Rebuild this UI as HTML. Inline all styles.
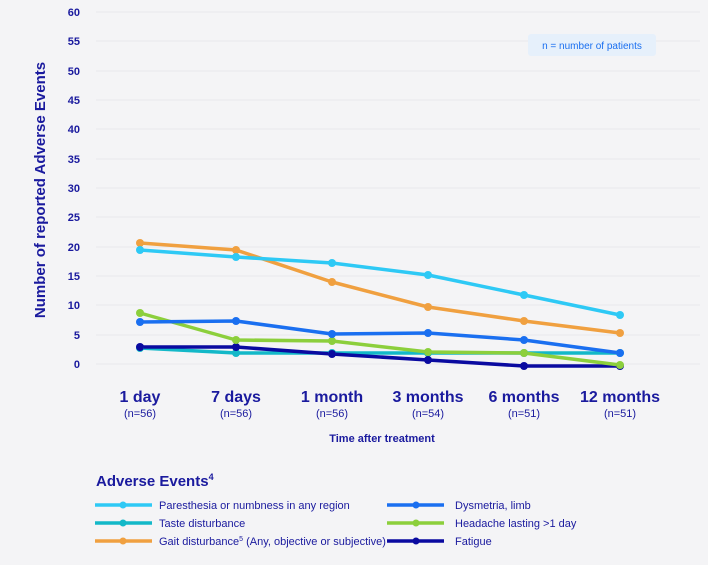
<!DOCTYPE html>
<html><head><style>
body{margin:0;width:708px;height:560px;background:#f4f4f6;font-family:"Liberation Sans",sans-serif;overflow:hidden}
</style></head><body>
<svg width="708" height="560" xmlns="http://www.w3.org/2000/svg" font-family="Liberation Sans, sans-serif">
<rect width="708" height="560" fill="#f4f4f6"/>
<g stroke="#e8e8ec" stroke-width="1">
<line x1="96" x2="700" y1="12" y2="12"/><line x1="96" x2="700" y1="41" y2="41"/><line x1="96" x2="700" y1="71" y2="71"/><line x1="96" x2="700" y1="100" y2="100"/><line x1="96" x2="700" y1="129" y2="129"/><line x1="96" x2="700" y1="159" y2="159"/><line x1="96" x2="700" y1="188" y2="188"/><line x1="96" x2="700" y1="217" y2="217"/><line x1="96" x2="700" y1="247" y2="247"/><line x1="96" x2="700" y1="276" y2="276"/><line x1="96" x2="700" y1="305" y2="305"/><line x1="96" x2="700" y1="335" y2="335"/><line x1="96" x2="700" y1="364" y2="364"/>
</g>
<g fill="#1a1a9e" font-size="11" font-weight="bold" text-anchor="end">
<text x="80" y="16">60</text><text x="80" y="45">55</text><text x="80" y="75">50</text><text x="80" y="104">45</text><text x="80" y="133">40</text><text x="80" y="163">35</text><text x="80" y="192">30</text><text x="80" y="221">25</text><text x="80" y="251">20</text><text x="80" y="280">15</text><text x="80" y="309">10</text><text x="80" y="339">5</text><text x="80" y="368">0</text>
</g>
<text transform="translate(45,190) rotate(-90)" fill="#1a1a9e" font-size="15" font-weight="bold" text-anchor="middle">Number of reported Adverse Events</text>
<rect x="528" y="34" width="128" height="22" rx="3" fill="#e6f0fb"/>
<text x="592" y="49" fill="#1a6ff0" font-size="10" text-anchor="middle">n = number of patients</text>
<g stroke-width="3.5" fill="none" stroke-linejoin="round">
<polyline stroke="#13b8c8" points="140,348 236,353 332,353 428,353 524,353 620,353"/>
<polyline stroke="#0a0aa0" points="140,347 236,347 332,354 428,360 524,366 620,366"/>
<polyline stroke="#8ccf3c" points="140,313 236,340 332,341 428,352 524,353 620,365"/>
<polyline stroke="#1a6ff0" points="140,322 236,321 332,334 428,333 524,340 620,353"/>
<polyline stroke="#f0a040" points="140,243 236,250 332,282 428,307 524,321 620,333"/>
<polyline stroke="#2ec9f5" points="140,250 236,257 332,263 428,275 524,295 620,315"/>
</g>
<g>
<g fill="#13b8c8"><circle cx="140" cy="348" r="4"/><circle cx="236" cy="353" r="4"/><circle cx="332" cy="353" r="4"/><circle cx="428" cy="353" r="4"/><circle cx="524" cy="353" r="4"/><circle cx="620" cy="353" r="4"/></g>
<g fill="#0a0aa0"><circle cx="140" cy="347" r="4"/><circle cx="236" cy="347" r="4"/><circle cx="332" cy="354" r="4"/><circle cx="428" cy="360" r="4"/><circle cx="524" cy="366" r="4"/><circle cx="620" cy="366" r="4"/></g>
<g fill="#8ccf3c"><circle cx="140" cy="313" r="4"/><circle cx="236" cy="340" r="4"/><circle cx="332" cy="341" r="4"/><circle cx="428" cy="352" r="4"/><circle cx="524" cy="353" r="4"/><circle cx="620" cy="365" r="4"/></g>
<g fill="#1a6ff0"><circle cx="140" cy="322" r="4"/><circle cx="236" cy="321" r="4"/><circle cx="332" cy="334" r="4"/><circle cx="428" cy="333" r="4"/><circle cx="524" cy="340" r="4"/><circle cx="620" cy="353" r="4"/></g>
<g fill="#f0a040"><circle cx="140" cy="243" r="4"/><circle cx="236" cy="250" r="4"/><circle cx="332" cy="282" r="4"/><circle cx="428" cy="307" r="4"/><circle cx="524" cy="321" r="4"/><circle cx="620" cy="333" r="4"/></g>
<g fill="#2ec9f5"><circle cx="140" cy="250" r="4"/><circle cx="236" cy="257" r="4"/><circle cx="332" cy="263" r="4"/><circle cx="428" cy="275" r="4"/><circle cx="524" cy="295" r="4"/><circle cx="620" cy="315" r="4"/></g>
</g>
<g fill="#1a1a9e" text-anchor="middle">
<g font-size="16" font-weight="bold"><text x="140" y="402">1 day</text><text x="236" y="402">7 days</text><text x="332" y="402">1 month</text><text x="428" y="402">3 months</text><text x="524" y="402">6 months</text><text x="620" y="402">12 months</text></g>
<g font-size="11"><text x="140" y="417">(n=56)</text><text x="236" y="417">(n=56)</text><text x="332" y="417">(n=56)</text><text x="428" y="417">(n=54)</text><text x="524" y="417">(n=51)</text><text x="620" y="417">(n=51)</text></g>
<text x="382" y="442" font-size="11" font-weight="bold">Time after treatment</text>
</g>
<text x="96" y="486" fill="#1a1a9e" font-size="15" font-weight="bold">Adverse Events<tspan font-size="9" dy="-6">4</tspan></text>
<g stroke-width="3.5">
<line x1="95" x2="152" y1="505" y2="505" stroke="#2ec9f5"/><circle cx="123" cy="505" r="3.5" fill="#2ec9f5"/>
<line x1="95" x2="152" y1="523" y2="523" stroke="#13b8c8"/><circle cx="123" cy="523" r="3.5" fill="#13b8c8"/>
<line x1="95" x2="152" y1="541" y2="541" stroke="#f0a040"/><circle cx="123" cy="541" r="3.5" fill="#f0a040"/>
<line x1="387" x2="444" y1="505" y2="505" stroke="#1a6ff0"/><circle cx="416" cy="505" r="3.5" fill="#1a6ff0"/>
<line x1="387" x2="444" y1="523" y2="523" stroke="#8ccf3c"/><circle cx="416" cy="523" r="3.5" fill="#8ccf3c"/>
<line x1="387" x2="444" y1="541" y2="541" stroke="#0a0aa0"/><circle cx="416" cy="541" r="3.5" fill="#0a0aa0"/>
</g>
<g fill="#1a1a9e" font-size="11">
<text x="159" y="509">Paresthesia or numbness in any region</text>
<text x="159" y="527">Taste disturbance</text>
<text x="159" y="545">Gait disturbance<tspan font-size="7" dy="-4">5</tspan><tspan dy="4"> (Any, objective or subjective)</tspan></text>
<text x="455" y="509">Dysmetria, limb</text>
<text x="455" y="527">Headache lasting &gt;1 day</text>
<text x="455" y="545">Fatigue</text>
</g>
</svg>
</body></html>
